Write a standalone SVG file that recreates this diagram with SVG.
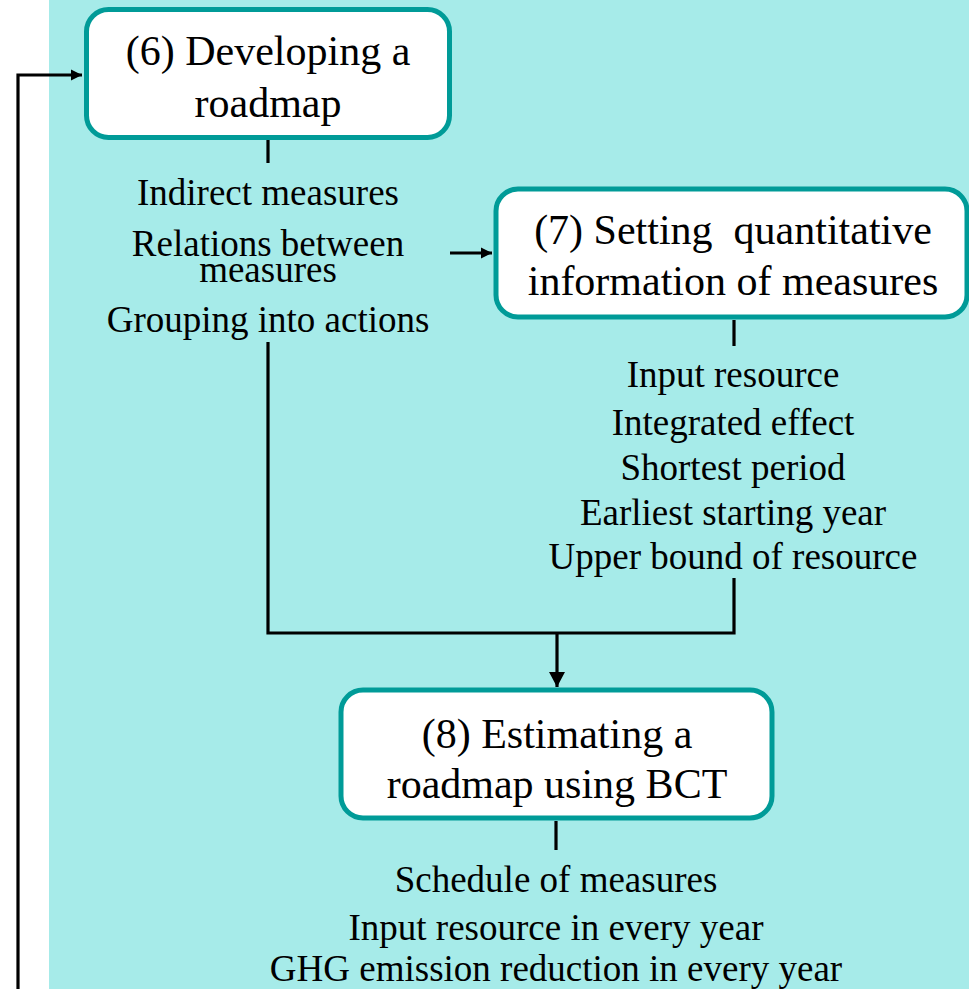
<svg xmlns="http://www.w3.org/2000/svg" width="969" height="989" viewBox="0 0 969 989">
<style>
.box{fill:#ffffff;stroke:#009B98;stroke-width:5}
.t{font-family:"Liberation Serif","Times New Roman",serif;fill:#000;text-anchor:middle}
.bt{font-size:42px}
.st{font-size:37px}
.ln{fill:none;stroke:#000;stroke-width:3.2}
</style>
<defs>
<marker id="ah" markerUnits="userSpaceOnUse" markerWidth="16" markerHeight="16" viewBox="0 0 16 16" refX="15" refY="8" orient="auto">
<path d="M0,0 L15,8 L0,16 Z" fill="#000"/>
</marker>
<marker id="as" markerUnits="userSpaceOnUse" markerWidth="12" markerHeight="12" viewBox="0 0 12 12" refX="11" refY="6" orient="auto">
<path d="M0,0.5 L11,6 L0,11.5 Z" fill="#000"/>
</marker>
</defs>
<rect x="0" y="0" width="969" height="989" fill="#ffffff"/>
<rect x="49" y="0" width="920" height="989" fill="#A6EBE9"/>
<g id="connectors">
<path class="ln" d="M18,989 L18,75 L82,75" stroke-width="3.8" marker-end="url(#as)"/>
<path class="ln" d="M268,140 L268,163"/>
<path class="ln" d="M450,253 L492,253" marker-end="url(#as)"/>
<path class="ln" d="M734,320 L734,346"/>
<path class="ln" d="M268,342 L268,633 L734,633 L734,578"/>
<path class="ln" d="M557,633 L557,687" marker-end="url(#ah)"/>
<path class="ln" d="M556,821 L556,850"/>
</g>
<g id="node6">
<rect class="box" x="86.5" y="9.5" width="363" height="128" rx="22"/>
<text class="t bt" x="268" y="65">(6) Developing a</text>
<text class="t bt" x="268" y="117">roadmap</text>
</g>
<g id="node6-outputs">
<text class="t st" x="268" y="205">Indirect measures</text>
<text class="t st" x="268" y="256">Relations between</text>
<text class="t st" x="268" y="282">measures</text>
<text class="t st" x="268" y="332">Grouping into actions</text>
</g>
<g id="node7">
<rect class="box" x="496" y="189" width="471" height="128" rx="22"/>
<text class="t bt" x="733" y="244" xml:space="preserve">(7) Setting  quantitative</text>
<text class="t bt" x="733" y="295">information of measures</text>
</g>
<g id="node7-outputs">
<text class="t st" x="733" y="387">Input resource</text>
<text class="t st" x="733" y="435">Integrated effect</text>
<text class="t st" x="733" y="480">Shortest period</text>
<text class="t st" x="733" y="525">Earliest starting year</text>
<text class="t st" x="733" y="569">Upper bound of resource</text>
</g>
<g id="node8">
<rect class="box" x="341" y="690" width="431" height="128" rx="22"/>
<text class="t bt" x="557" y="748">(8) Estimating a</text>
<text class="t bt" x="557" y="798">roadmap using BCT</text>
</g>
<g id="node8-outputs">
<text class="t st" x="556" y="892">Schedule of measures</text>
<text class="t st" x="556" y="940">Input resource in every year</text>
<text class="t st" x="556" y="981">GHG emission reduction in every year</text>
</g>
</svg>
